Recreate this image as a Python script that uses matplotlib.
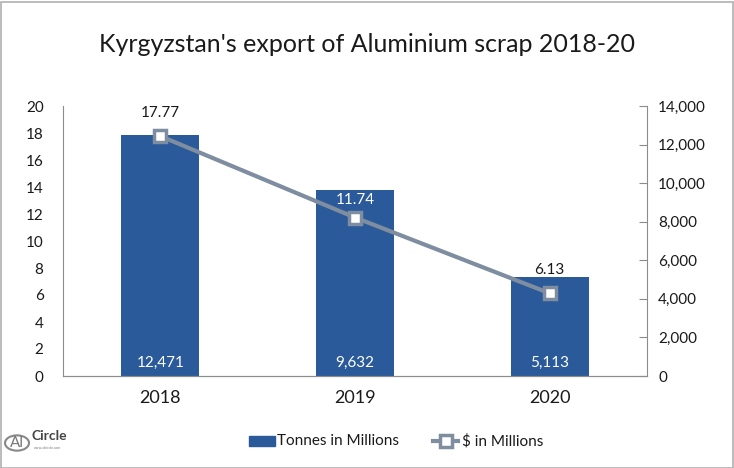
import matplotlib.pyplot as plt
from matplotlib.patches import Rectangle, Circle
from matplotlib.ticker import FuncFormatter

plt.rcParams['font.family'] = ['Lato', 'DejaVu Sans']

years = ['2018', '2019', '2020']
tonnes = [12471, 9632, 5113]
dollars = [17.77, 11.74, 6.13]

bar_color = '#2A5A99'
line_color = '#7F8DA0'
text_color = '#1a1a1a'

W, H = 734, 468
fig = plt.figure(figsize=(W / 100, H / 100), dpi=100)
fig.patch.set_facecolor('white')
fig.patches.append(Rectangle((0.5 / W, 0.5 / H), 1 - 2 / W, 1 - 2 / H, transform=fig.transFigure,
                             fill=False, edgecolor='#b0b0b0', linewidth=1.2))

ax = fig.add_axes([63 / W, 1 - 376 / H, 584 / W, 270 / H])
ax2 = ax.twinx()

x = list(range(len(years)))

# bars on the right axis (tonnes)
ax2.bar(x, tonnes, width=0.4, color=bar_color, zorder=1)
ax2.set_ylim(0, 14000)
ax2.set_yticks(range(0, 14001, 2000))
ax2.yaxis.set_major_formatter(FuncFormatter(lambda v, p: f'{int(v):,}'))
for xi, t in zip(x, tonnes):
    ax2.text(xi, 700, f'{t:,}', ha='center', va='center', color='white', fontsize=11, zorder=5)

# line on the left axis (dollars)
ax.set_zorder(ax2.get_zorder() + 1)
ax.patch.set_visible(False)
ax.plot(x, dollars, color=line_color, linewidth=3, marker='s', markersize=8,
        markerfacecolor='white', markeredgecolor=line_color, markeredgewidth=2.5, zorder=4)
ax.set_ylim(0, 20)
for xi, d, t in zip(x, dollars, tonnes):
    bar_top = t / 14000 * 20
    # white label (a bit lower) when it sits on top of the bar
    if d + 1.8 < bar_top:
        ax.text(xi, d + 0.8, f'{d:.2f}', ha='center', va='bottom', color='white', fontsize=11)
    else:
        ax.text(xi, d + 1.2, f'{d:.2f}', ha='center', va='bottom', color=text_color, fontsize=11)
ax.set_yticks(range(0, 21, 2))
ax.set_xlim(-0.5, 2.5)
ax.set_xticks(x)
ax.set_xticklabels(years, fontsize=13, color=text_color)

for a in (ax, ax2):
    a.spines['top'].set_visible(False)
    a.spines['left'].set_color('#8c8c8c')
    a.spines['right'].set_color('#8c8c8c')
    a.spines['bottom'].set_color('#8c8c8c')
ax.spines['right'].set_visible(False)
ax2.spines['left'].set_visible(False)
ax.tick_params(axis='y', length=0, labelsize=11, labelcolor=text_color, pad=14)
ax.tick_params(axis='x', length=0, pad=10)
ax2.tick_params(axis='y', direction='in', length=6, color='#8c8c8c', labelsize=11,
                labelcolor=text_color, pad=8)

fig.text(0.5, 1 - 45 / H, "Kyrgyzstan's export of Aluminium scrap 2018-20", ha='center', va='center',
         fontsize=18, color=text_color)

# legend
fig.patches.append(Rectangle((249 / W, 1 - 446 / H), 26 / W, 10 / H, transform=fig.transFigure,
                             color=bar_color))
fig.text(277 / W, 1 - 441 / H, 'Tonnes in Millions', va='center', fontsize=11, color=text_color)
fig.lines.append(plt.Line2D([433 / W, 458 / W], [1 - 441 / H, 1 - 441 / H], transform=fig.transFigure,
                            color=line_color, linewidth=3))
fig.lines.append(plt.Line2D([445.5 / W], [1 - 441 / H], transform=fig.transFigure, color=line_color,
                            marker='s', markersize=8, markerfacecolor='white', markeredgecolor=line_color,
                            markeredgewidth=2.5, linestyle='none'))
fig.text(462 / W, 1 - 441 / H, '$ in Millions', va='center', fontsize=11, color=text_color)

# logo
fig.patches.append(Circle((17 / W, 1 - 443 / H), 12 / W, transform=fig.transFigure, fill=False,
                          edgecolor='#888888', linewidth=1.5))
fig.text(17 / W, 1 - 443 / H, 'Al', ha='center', va='center', fontsize=11, color='#777777')
fig.text(31 / W, 1 - 436 / H, 'Circle', va='center', fontsize=10, color='#444444', fontweight='bold')
fig.text(34 / W, 1 - 448 / H, 'www.alcircle.com', va='center', fontsize=2.5, color='#777777')

fig.savefig('out.png', dpi=100)
